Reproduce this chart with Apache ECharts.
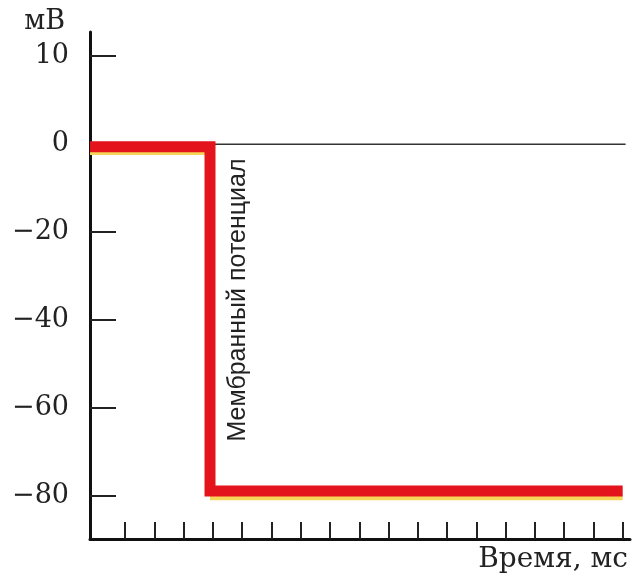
<!DOCTYPE html>
<html><head><meta charset="utf-8">
<script src="https://cdn.jsdelivr.net/npm/echarts@6/dist/echarts.min.js"></script>
<style>html,body{margin:0;padding:0;background:#fff}#c{width:636px;height:576px}</style>
</head><body><div id="c"></div>
<script>
// Data
const redTime = [-0.2, 3.9, 3.9, 18];
const redValue = [-0.6, -0.6, -78.9, -78.9];
const yellowTopTime = [-0.2, 3.9];
const yellowTopValue = [-1.8, -1.8];
const yellowBottomTime = [3.9, 18];
const yellowBottomValue = [-80.3, -80.3];
const zeroTime = [4, 18.1];
const zeroValue = [0, 0];
const yTickValues = [20, 0, -20, -40, -60, -80];
const yTickLabels = ['10', '0', '\u221220', '\u221240', '\u221260', '\u221280'];
const xTickValues = [1,2,3,4,5,6,7,8,9,10,11,12,13,14,15,16,17,18];

const zip = (a, b) => a.map((v, i) => [v, b[i]]);
const chart = echarts.init(document.getElementById('c'));
const serif = 'DejaVu Serif';
chart.setOption({
  animation: false,
  grid: { left: 90, right: 6, top: 32, bottom: 37 },
  xAxis: {
    type: 'value', min: -0.2, max: 18.25,
    name: 'Время, мс', nameLocation: 'end', nameGap: -2,
    nameTextStyle: { fontFamily: serif, fontSize: 28, color: '#222', align: 'right', verticalAlign: 'top', padding: [7, 0, 0, 0] },
    axisLine: { show: true, onZero: false, lineStyle: { color: '#111', width: 3 } },
    axisTick: { show: true, inside: true, length: 17, customValues: xTickValues, lineStyle: { color: '#222', width: 2 } },
    axisLabel: { show: false },
    splitLine: { show: false }
  },
  yAxis: {
    type: 'value', min: -89.8, max: 25.5,
    name: 'мВ', nameLocation: 'end', nameGap: -3,
    nameTextStyle: { fontFamily: serif, fontSize: 27, color: '#222', align: 'right', verticalAlign: 'bottom', padding: [0, 25, 0, 0] },
    axisLine: { show: true, onZero: false, lineStyle: { color: '#111', width: 3 } },
    axisTick: { show: true, inside: true, length: 26, customValues: yTickValues, lineStyle: { color: '#222', width: 2 } },
    axisLabel: {
      customValues: yTickValues, margin: 21, fontFamily: serif, fontSize: 27, color: '#222',
      formatter: v => yTickLabels[yTickValues.indexOf(v)]
    },
    splitLine: { show: false }
  },
  series: [
    { type: 'line', data: zip(zeroTime, zeroValue), symbol: 'none', lineStyle: { color: '#333', width: 1.5 }, z: 1 },
    { type: 'line', data: zip(yellowTopTime, yellowTopValue), symbol: 'none', lineStyle: { color: '#f6d65a', width: 6 }, z: 2 },
    { type: 'line', data: zip(yellowBottomTime, yellowBottomValue), symbol: 'none', lineStyle: { color: '#f6d65a', width: 6 }, z: 2 },
    { type: 'line', data: zip(redTime, redValue), symbol: 'none', lineStyle: { color: '#e3141b', width: 11, join: 'miter' }, z: 3 }
  ],
  graphic: [{
    type: 'text', x: 238, y: 300, rotation: Math.PI / 2,
    style: { text: 'Мембранный потенциал', fontFamily: 'Liberation Sans', fontSize: 25, fill: '#222', align: 'center', verticalAlign: 'middle' }
  }]
});
</script></body></html>
